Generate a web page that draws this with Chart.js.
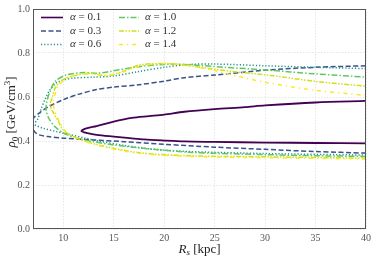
<!DOCTYPE html>
<html>
<head>
<meta charset="utf-8">
<script src="https://cdn.jsdelivr.net/npm/chart.js@4/dist/chart.umd.min.js"></script>
<style>
  html, body { margin: 0; padding: 0; background: #fff; }
  #wrap { width: 374px; height: 257px; }
</style>
</head>
<body>
<div id="wrap"><canvas id="c"></canvas></div>
<script>
// contour values: lower branch right -> left, then upper branch left -> right
const alphas = ["0.1", "0.3", "0.6", "1.0", "1.2", "1.4"];

const rs01  = [40,35,30,25,22,20,18,16.6,15,13.3,12.4,11.8, 12.2,13.3,14.9,16.8,18.5,20,22,25,28,30,35,40];
const rho01 = [0.389,0.391,0.393,0.396,0.398,0.402,0.407,0.413,0.42,0.428,0.436,0.445, 0.456,0.468,0.487,0.505,0.513,0.52,0.533,0.545,0.554,0.562,0.575,0.582];

const rs03  = [40,35,30,25,20,16,13,10,8.5,7.6,7.2,7.0, 7.0,7.7,8.5,10,11.5,13.3,15,17.5,20,22,25,30,35,40];
const rho03 = [0.345,0.352,0.362,0.372,0.385,0.397,0.405,0.413,0.42,0.428,0.44,0.46, 0.5,0.53,0.555,0.588,0.612,0.634,0.645,0.656,0.672,0.688,0.7,0.722,0.735,0.742];

const rs06  = [40,30,22.5,19,16,13.5,12,10.6,9.3,8,7.3,7.0, 7.0,7.4,7.8,8.2,8.7,9.3,10,11,13,14.9,17.5,20,22.5,25,30,35,40];
const rho06 = [0.336,0.343,0.352,0.362,0.38,0.40,0.415,0.43,0.443,0.458,0.47,0.478, 0.48,0.493,0.545,0.59,0.634,0.664,0.677,0.686,0.69,0.695,0.716,0.735,0.748,0.75,0.742,0.735,0.729];

const rs10  = [40,35,30,22.5,17.5,15,13,11.5,10.3,9.3,8.6,8.3, 8.35,8.7,9.2,10.3,12,13.3,14.6,17.5,20,22,26,30,35,40];
const rho10 = [0.33,0.333,0.338,0.349,0.369,0.382,0.397,0.412,0.43,0.46,0.5,0.54, 0.575,0.627,0.671,0.70,0.711,0.708,0.716,0.738,0.748,0.748,0.735,0.723,0.705,0.69];

const rs12  = [40,30,22.5,17.5,13.3,11,10,9.5,9.0,8.7, 8.85,9.3,10.3,12.6,14.3,15.9,17.5,20,22,26.9,30.2,35,40];
const rho12 = [0.322,0.328,0.333,0.347,0.384,0.42,0.45,0.49,0.53,0.565, 0.59,0.649,0.686,0.708,0.696,0.716,0.745,0.752,0.745,0.715,0.70,0.671,0.649];

const rs14  = [40,30,22.5,17.5,13.6,11.2,10.2,9.6,9.2,9.0, 9.1,9.5,10.5,12.5,14.5,16,17.5,20,22,25,27,30,35,40];
const rho14 = [0.318,0.324,0.33,0.344,0.378,0.415,0.445,0.49,0.53,0.57, 0.6,0.65,0.69,0.705,0.70,0.715,0.74,0.752,0.745,0.72,0.697,0.667,0.63,0.607];

const xTicks = [10, 15, 20, 25, 30, 35, 40];
const yTicks = [0.0, 0.2, 0.4, 0.6, 0.8, 1.0];

const colors = ["#440154", "#3b528b", "#21918c", "#5ec962", "#cde11d", "#fde725"];
const dashes = [[], [5, 2.5], [1.2, 2], [6, 2, 1.5, 2], [5, 1.5, 1.5, 1.5, 1.5, 1.5], [4, 4, 1.2, 4]];

const allX = [rs01, rs03, rs06, rs10, rs12, rs14];
const allY = [rho01, rho03, rho06, rho10, rho12, rho14];

const SERIF = "'Liberation Serif', 'DejaVu Serif', serif";

let datasets = [];
for (let i = 0; i < alphas.length; i++) {
  datasets.push({
    label: "α = " + alphas[i],
    data: allX[i].map((x, j) => ({ x: x, y: allY[i][j] })),
    showLine: true,
    borderColor: colors[i],
    backgroundColor: colors[i],
    borderWidth: i == 0 ? 1.8 : 1.5,
    borderDash: dashes[i],
    pointRadius: 0,
    tension: 0.3,
    fill: false,
    order: alphas.length - i
  });
}

// legend inside the plot + axis titles with italic symbols + frame
const extras = {
  id: "extras",
  afterDraw(chart) {
    const ctx = chart.ctx;
    const a = chart.chartArea;
    ctx.save();
    // frame
    ctx.strokeStyle = "#555";
    ctx.lineWidth = 1;
    ctx.setLineDash([]);
    ctx.strokeRect(a.left + 0.5, a.top + 0.5, a.right - a.left - 1, a.bottom - a.top - 1);

    // legend
    chart.data.datasets.forEach((ds, i) => {
      let col = i < 3 ? 0 : 1;
      let row = i % 3;
      let y = 17.5 + row * 13.5;
      let x0 = col ? 119 : 41;
      let x1 = col ? 139 : 63;
      ctx.strokeStyle = ds.borderColor;
      ctx.lineWidth = 1.6;
      ctx.setLineDash(ds.borderDash);
      ctx.beginPath();
      ctx.moveTo(x0, y);
      ctx.lineTo(x1, y);
      ctx.stroke();
      ctx.setLineDash([]);
      ctx.fillStyle = "#333";
      ctx.textBaseline = "middle";
      ctx.textAlign = "left";
      let tx = col ? 145 : 70;
      ctx.font = "italic 11px " + SERIF;
      ctx.fillText("α", tx, y);
      let w = ctx.measureText("α").width;
      ctx.font = "11px " + SERIF;
      ctx.fillText(" = " + alphas[i], tx + w, y);
    });

    // x title: R_s [kpc]
    ctx.fillStyle = "#222";
    ctx.textBaseline = "alphabetic";
    let cx = (a.left + a.right) / 2;
    ctx.font = "italic 13px " + SERIF;
    let wR = ctx.measureText("R").width;
    ctx.font = "italic 9px " + SERIF;
    let ws = ctx.measureText("s").width;
    ctx.font = "13px " + SERIF;
    let wk = ctx.measureText(" [kpc]").width;
    let sx = cx - (wR + ws + wk) / 2;
    let by = 253;
    ctx.font = "italic 13px " + SERIF;
    ctx.fillText("R", sx, by);
    ctx.font = "italic 9px " + SERIF;
    ctx.fillText("s", sx + wR, by + 2);
    ctx.font = "13px " + SERIF;
    ctx.fillText(" [kpc]", sx + wR + ws, by);

    // y title: rho_0 [GeV/cm^3]
    ctx.translate(15, 112);
    ctx.rotate(-Math.PI / 2);
    ctx.font = "italic 13px " + SERIF;
    let wp = ctx.measureText("ρ").width;
    ctx.font = "9px " + SERIF;
    let w0 = ctx.measureText("0").width;
    ctx.font = "13px " + SERIF;
    let wg = ctx.measureText(" [GeV/cm").width;
    ctx.font = "9px " + SERIF;
    let w3 = ctx.measureText("3").width;
    ctx.font = "13px " + SERIF;
    let wb = ctx.measureText("]").width;
    let ox = -(wp + w0 + wg + w3 + wb) / 2;
    ctx.font = "italic 13px " + SERIF;
    ctx.fillText("ρ", ox, 0);
    ctx.font = "9px " + SERIF;
    ctx.fillText("0", ox + wp, 2.5);
    ctx.font = "13px " + SERIF;
    ctx.fillText(" [GeV/cm", ox + wp + w0, 0);
    ctx.font = "9px " + SERIF;
    ctx.fillText("3", ox + wp + w0 + wg, -5);
    ctx.font = "13px " + SERIF;
    ctx.fillText("]", ox + wp + w0 + wg + w3, 0);
    ctx.restore();
  }
};

new Chart(document.getElementById("c"), {
  type: "scatter",
  data: { datasets: datasets },
  options: {
    responsive: true,
    maintainAspectRatio: false,
    animation: false,
    layout: { padding: { top: 4, right: 5, left: 0, bottom: 0 } },
    plugins: { legend: { display: false }, tooltip: { enabled: false } },
    scales: {
      x: {
        type: "linear",
        min: 7,
        max: 40,
        afterBuildTicks: s => { s.ticks = xTicks.map(v => ({ value: v })); },
        afterFit: s => { s.height = 28; },
        grid: { color: "#e6e6e6", drawTicks: false },
        border: { display: false, dash: [1.5, 1.5] },
        ticks: { padding: 3, color: "#555", font: { family: SERIF, size: 10 } }
      },
      y: {
        type: "linear",
        min: 0,
        max: 1,
        afterBuildTicks: s => { s.ticks = yTicks.map(v => ({ value: v })); },
        afterFit: s => { s.width = 33; },
        grid: { color: "#e6e6e6", drawTicks: false },
        border: { display: false, dash: [1.5, 1.5] },
        ticks: { padding: 3, color: "#555", font: { family: SERIF, size: 10 }, callback: v => v.toFixed(1) }
      }
    }
  },
  plugins: [extras]
});
</script>
</body>
</html>
